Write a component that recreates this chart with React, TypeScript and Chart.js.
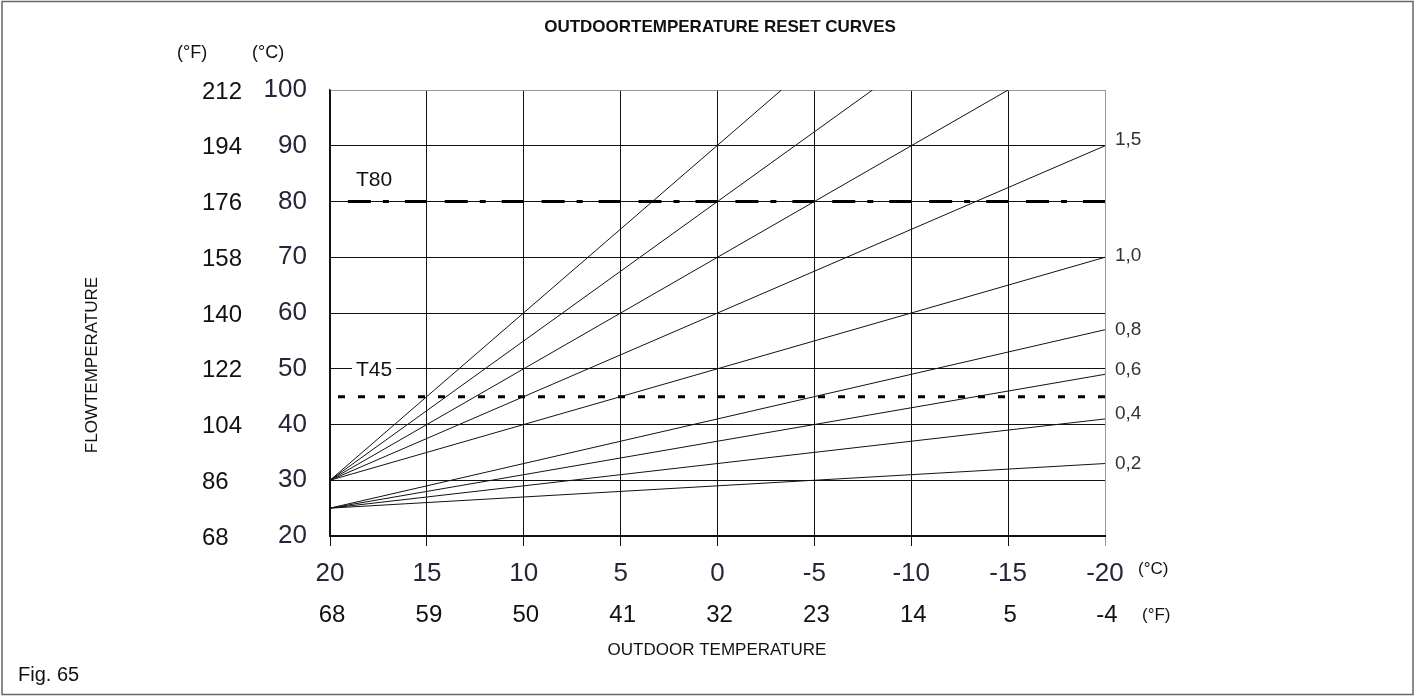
import React, { useEffect, useRef } from 'react';
import { Chart, registerables } from 'chart.js';
Chart.register(...registerables);

// Reset curves: start (outdoor °C, flow °C) and end points
const curveNames = ['3,0', '2,5', '2,0', '1,5', '1,0', '0,8', '0,6', '0,4', '0,2'];
const curveStartX = [20, 20, 20, 20, 20, 20, 20, 20, 20];
const curveStartY = [30, 30, 30, 30, 30, 25, 25, 25, 25];
const curveEndX = [-3.3, -8, -15, -20, -20, -20, -20, -20, -20];
const curveEndY = [100, 100, 100, 90, 70, 57, 49, 41, 33];

// Labels at the right end of curves
const rightLabels = ['1,5', '1,0', '0,8', '0,6', '0,4', '0,2'];
const rightLabelValues = [91, 70.2, 57, 49.8, 42, 33];

// Axis tick labels
const outdoorC = [20, 15, 10, 5, 0, -5, -10, -15, -20];
const outdoorF = ['68', '59', '50', '41', '32', '23', '14', '5', '-4'];
const flowC = [100, 90, 80, 70, 60, 50, 40, 30, 20];
const flowF = ['212', '194', '176', '158', '140', '122', '104', '86', '68'];

// Limit lines
const limitNames = ['T80', 'T45'];
const limitValues = [80, 45];

const FONT = '"Liberation Sans", Arial, Helvetica, sans-serif';

const textPlugin = {
  id: 'customTexts',
  afterDraw(chart: any) {
    const ctx = chart.ctx as CanvasRenderingContext2D;
    const xs = chart.scales.x;
    const ys = chart.scales.y;
    ctx.save();

    // outer frame
    ctx.strokeStyle = '#666';
    ctx.lineWidth = 1.5;
    ctx.strokeRect(2, 1.5, 1411, 693);

    // left tick labels
    ctx.textBaseline = 'middle';
    flowC.forEach((v, i) => {
      const y = ys.getPixelForValue(v);
      ctx.fillStyle = '#26263a';
      ctx.font = `26px ${FONT}`;
      ctx.textAlign = 'right';
      ctx.fillText(String(v), 307, y);
      ctx.fillStyle = '#111';
      ctx.font = `24px ${FONT}`;
      ctx.textAlign = 'left';
      ctx.fillText(flowF[i], 202, y + 2);
    });

    // bottom tick labels
    outdoorC.forEach((v, i) => {
      const x = xs.getPixelForValue(v);
      ctx.textAlign = 'center';
      ctx.fillStyle = '#26263a';
      ctx.font = `26px ${FONT}`;
      ctx.fillText(String(v), x, 574);
      ctx.fillStyle = '#111';
      ctx.font = `24px ${FONT}`;
      ctx.fillText(outdoorF[i], x + 2, 615.5);
    });

    // unit labels
    ctx.fillStyle = '#111';
    ctx.font = `18px ${FONT}`;
    ctx.textAlign = 'left';
    ctx.fillText('(°F)', 177, 53.5);
    ctx.fillText('(°C)', 252, 53.5);
    ctx.font = `17px ${FONT}`;
    ctx.fillText('(°C)', 1138, 569.5);
    ctx.fillText('(°F)', 1142, 615);

    // right curve labels
    ctx.fillStyle = '#333';
    ctx.font = `19px ${FONT}`;
    rightLabels.forEach((t, i) => {
      ctx.fillText(t, 1115, ys.getPixelForValue(rightLabelValues[i]));
    });

    // limit labels
    ctx.fillStyle = '#111';
    ctx.font = `21px ${FONT}`;
    const t80y = ys.getPixelForValue(limitValues[0]) - 21;
    ctx.fillText(limitNames[0], 356, t80y);
    const t45y = ys.getPixelForValue(50) + 1;
    const w45 = ctx.measureText(limitNames[1]).width;
    ctx.fillStyle = '#fff';
    ctx.fillRect(352, t45y - 9, w45 + 8, 18);
    ctx.fillStyle = '#111';
    ctx.fillText(limitNames[1], 356, t45y);

    // title
    ctx.textAlign = 'center';
    ctx.font = `bold 17px ${FONT}`;
    ctx.fillText('OUTDOORTEMPERATURE RESET CURVES', 720, 27);

    // axis titles
    ctx.font = `17px ${FONT}`;
    ctx.fillText('OUTDOOR TEMPERATURE', 717, 650);
    ctx.save();
    ctx.translate(92, 365);
    ctx.rotate(-Math.PI / 2);
    ctx.fillText('FLOWTEMPERATURE', 0, 0);
    ctx.restore();

    ctx.textAlign = 'left';
    ctx.font = `20px ${FONT}`;
    ctx.fillText('Fig. 65', 18, 675);

    ctx.restore();
  },
};

export default function App() {
  const ref = useRef<HTMLCanvasElement | null>(null);

  useEffect(() => {
    if (!ref.current) return;
    const curveSets = curveNames.map((name, i) => ({
      label: name,
      data: [
        { x: curveStartX[i], y: curveStartY[i] },
        { x: curveEndX[i], y: curveEndY[i] },
      ],
      borderColor: '#111',
      borderWidth: 1,
      pointRadius: 0,
      fill: false,
    }));
    const limitSets = [
      {
        label: limitNames[0],
        data: [{ x: 20, y: limitValues[0] }, { x: -20, y: limitValues[0] }],
        borderColor: '#000',
        borderWidth: 3,
        borderDash: [23, 12, 6, 16, 22, 17.875],
        borderDashOffset: 79,
        pointRadius: 0,
        fill: false,
      },
      {
        label: limitNames[1],
        data: [{ x: 20, y: limitValues[1] }, { x: -20, y: limitValues[1] }],
        borderColor: '#000',
        borderWidth: 3,
        borderDash: [7, 13],
        borderDashOffset: 12,
        pointRadius: 0,
        fill: false,
      },
    ];

    const chart = new Chart(ref.current, {
      type: 'line',
      data: { datasets: [...curveSets, ...limitSets] as any },
      options: {
        animation: false,
        responsive: false,
        devicePixelRatio: 1,
        layout: { padding: { left: 330, right: 311, top: 90, bottom: 151 } },
        plugins: {
          legend: { display: false },
          tooltip: { enabled: false },
          title: { display: false },
        },
        scales: {
          x: {
            type: 'linear',
            min: -20,
            max: 20,
            reverse: true,
            ticks: { display: false, stepSize: 5 },
            grid: {
              color: (c: any) => (c.tick && c.tick.value === -20 ? '#999' : '#111'),
              lineWidth: 1,
              drawTicks: true,
              tickLength: 10,
            },
            border: { display: true, color: '#111', width: 2 },
          },
          y: {
            type: 'linear',
            min: 20,
            max: 100,
            ticks: { display: false, stepSize: 10 },
            grid: {
              color: (c: any) => (c.tick && c.tick.value === 100 ? '#999' : '#111'),
              lineWidth: 1,
              drawTicks: false,
            },
            border: { display: true, color: '#111', width: 1.5 },
          },
        },
      },
      plugins: [textPlugin],
    });
    return () => chart.destroy();
  }, []);

  return (
    <div style={{ position: 'fixed', left: 0, top: 0, width: 1416, height: 697, background: '#fff' }}>
      <canvas ref={ref} width={1416} height={697} style={{ display: 'block' }} />
    </div>
  );
}
